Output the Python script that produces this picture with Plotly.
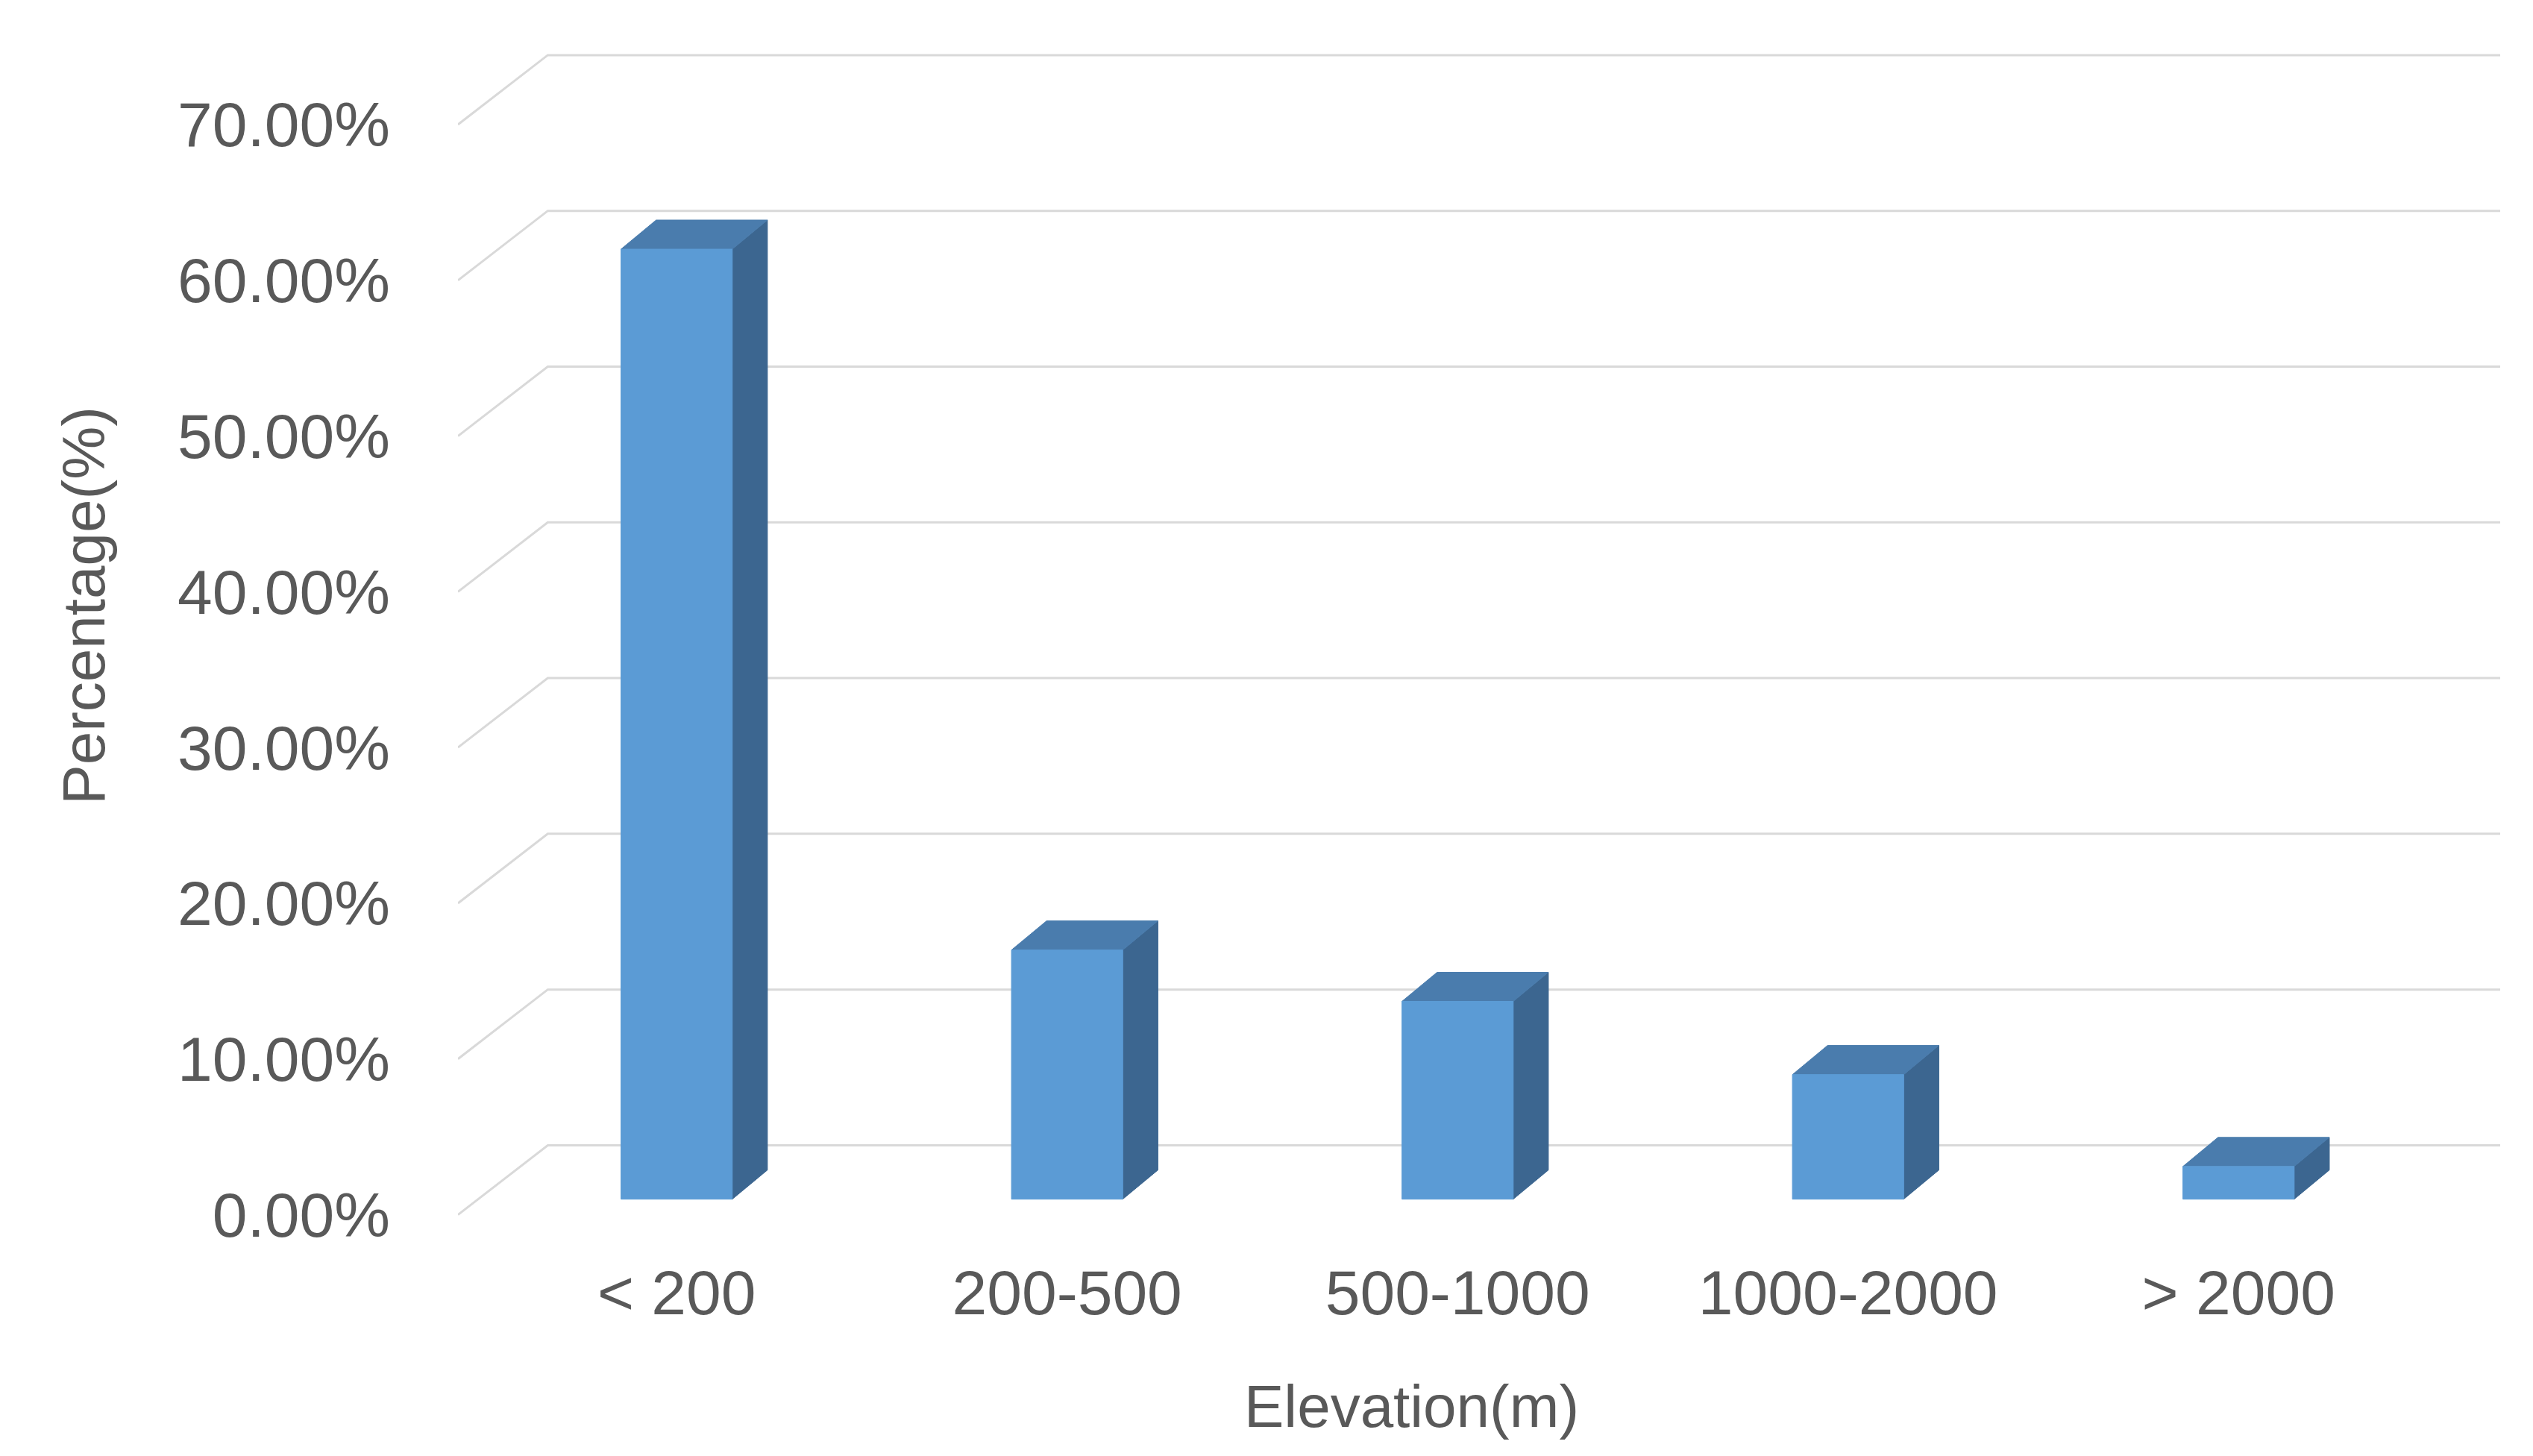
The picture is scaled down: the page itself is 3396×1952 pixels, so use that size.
import plotly.graph_objects as go

# Data
categories = ["< 200", "200-500", "500-1000", "1000-2000", "> 2000"]
percent = [61.0, 16.0, 12.7, 8.0, 2.1]
tick_values = [0, 10, 20, 30, 40, 50, 60, 70]
tick_labels = ["0.00%", "10.00%", "20.00%", "30.00%", "40.00%", "50.00%", "60.00%", "70.00%"]

# pseudo 3D geometry (in axis units)
bar_w = 0.285
bar_dx, bar_dy = 0.09, 1.87
wall_x0, wall_dx, wall_dy, wall_x1 = -0.56, 0.23, 4.46, 4.67
front_drop = 1.0

font = "Liberation Sans, Arial, sans-serif"
grey = "#595959"
x = list(range(len(categories)))

fig = go.Figure()

# gridlines: slanted floor part + back wall
for t in tick_values:
    y0 = t - front_drop
    fig.add_trace(go.Scatter(
        x=[wall_x0, wall_x0 + wall_dx, wall_x1],
        y=[y0, y0 + wall_dy, y0 + wall_dy],
        mode="lines", line=dict(color="#d9d9d9", width=3),
        hoverinfo="skip", showlegend=False))


def face(xs, ys, color):
    fig.add_trace(go.Scatter(
        x=xs, y=ys, fill="toself", fillcolor=color, mode="lines",
        line=dict(color=color, width=1), hoverinfo="skip", showlegend=False))


# bars: side, top and front faces drawn above the gridlines
for xi, v in zip(x, percent):
    xr = xi + bar_w / 2
    xl = xi - bar_w / 2
    face([xr, xr + bar_dx, xr + bar_dx, xr, xr], [0, bar_dy, v + bar_dy, v, 0], "#3c6690")
    face([xl, xl + bar_dx, xr + bar_dx, xr, xl], [v, v + bar_dy, v + bar_dy, v, v], "#4a7cad")
    face([xl, xr, xr, xl, xl], [0, 0, v, v, 0], "#5b9bd5")

fig.update_layout(
    width=3396, height=1952,
    paper_bgcolor="white", plot_bgcolor="white",
    margin=dict(l=606, r=52, t=40, b=321),
    font=dict(family=font, color=grey),
    xaxis=dict(range=[wall_x0, wall_x1], tickvals=x, ticktext=categories,
               showgrid=False, zeroline=False, showline=False, ticks="",
               tickfont=dict(size=84, color=grey), ticklabelstandoff=38),
    yaxis=dict(range=[-1.5, 74.7], tickvals=[t - front_drop for t in tick_values], ticktext=tick_labels,
               showgrid=False, zeroline=False, showline=False, ticks="",
               tickfont=dict(size=84, color=grey), ticklabelstandoff=90),
    annotations=[
        dict(text="Percentage(%)", textangle=-90, xref="paper", yref="paper",
             x=-0.183, xanchor="center", y=0.52, showarrow=False, font=dict(size=80, color=grey)),
        dict(text="Elevation(m)", xref="paper", yref="paper",
             x=0.467, y=-0.155, yanchor="middle", showarrow=False, font=dict(size=80, color=grey)),
    ],
)

fig.write_html("out.html")
